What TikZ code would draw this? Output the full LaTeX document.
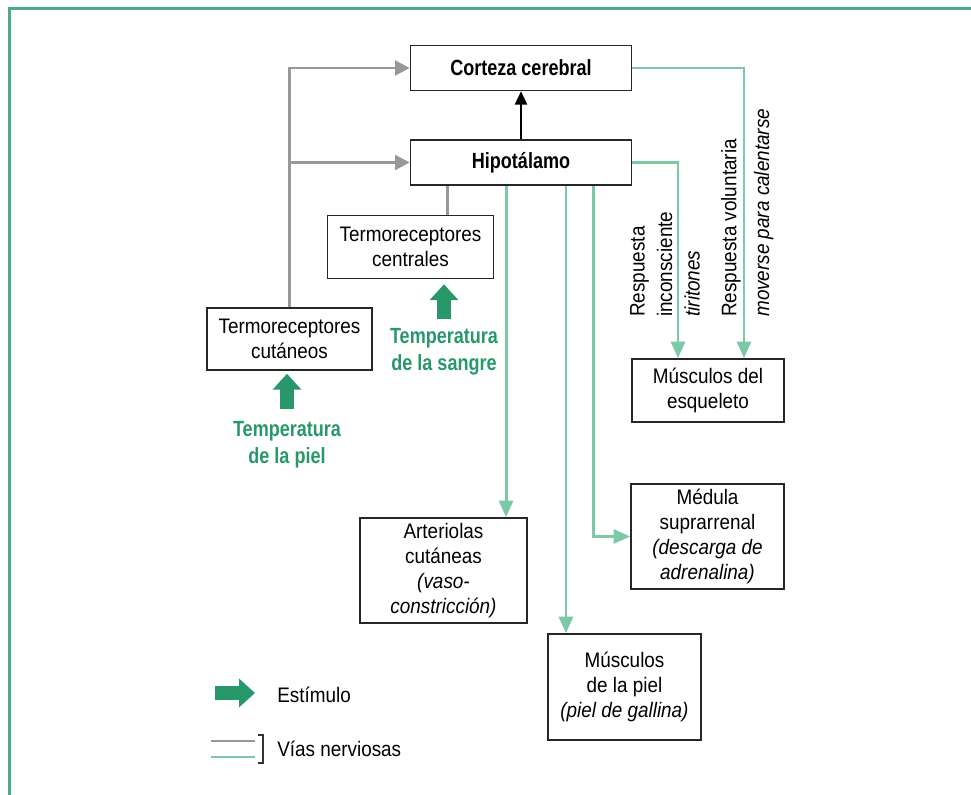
\documentclass[tikz,border=0pt]{standalone}
\usepackage{fontspec}
\setmainfont{Liberation Sans}[FakeStretch=0.9]
\newfontfamily\condbold{Liberation Sans}[FakeStretch=0.82]
\usetikzlibrary{arrows.meta}
\definecolor{nervgray}{RGB}{152,152,156}
\definecolor{nervgreen}{RGB}{125,200,165}
\definecolor{stimgreen}{RGB}{40,152,106}
\definecolor{framegreen}{RGB}{78,172,132}
\newcommand{\regfont}{\fontsize{15.75pt}{18.75pt}\selectfont}
\newcommand{\headfont}{\condbold\bfseries\fontsize{16.5pt}{20.25pt}\selectfont}

\begin{document}
\begin{tikzpicture}[
  x=0.75pt, y=-0.75pt,
  box/.style={draw=black!85, line width=1.1pt, align=center, inner sep=0pt, font=\regfont},
  hbox/.style={box, font=\headfont},
  stim/.style={align=center, text=stimgreen, font=\headfont, inner sep=0pt},
  rot/.style={rotate=90, anchor=north west, align=left, inner sep=0pt},
  grayarr/.style={-{Triangle[length=11pt,width=11pt]}, nervgray, line width=2.2pt},
  greenarr/.style={-{Triangle[length=12.5pt,width=10.5pt]}, nervgreen, line width=2.2pt},
  blackarr/.style={-{Triangle[length=10pt,width=9pt]}, black, line width=1.8pt},
  stimarr/.style={-{Triangle[length=12pt 0,width=21pt 0]}, stimgreen, line width=10pt}
]
\useasboundingbox (0,0) rectangle (971,795);
% frame
\draw[framegreen, line width=1.6pt] (971,8.5) -- (9.5,8.5) -- (9.5,795);

% boxes
\node[hbox, minimum width=165.75pt, minimum height=33.75pt] (cor) at (521,68) {Corteza cerebral};
\node[hbox, minimum width=165.75pt, minimum height=33.75pt] (hip) at (521,162.5) {Hipotálamo};
\node[box, minimum width=124.5pt, minimum height=47.25pt] (cen) at (410.5,247) {Termoreceptores\\centrales};
\node[box, minimum width=123.75pt, minimum height=46.5pt] (cut) at (289.5,339) {Termoreceptores\\cutáneos};
\node[box, minimum width=114pt, minimum height=47.25pt] (esq) at (708,390.5) {Músculos del\\esqueleto};
\node[box, minimum width=125.25pt, minimum height=78.75pt] (art) at (443.5,570.5) {Arteriolas\\cutáneas\\\textit{(vaso-}\\\textit{constricción)}};
\node[box, minimum width=114.75pt, minimum height=78.75pt] (med) at (707.5,536.5) {Médula\\suprarrenal\\\textit{(descarga de}\\\textit{adrenalina)}};
\node[box, minimum width=114.75pt, minimum height=79.5pt] (mpi) at (624.5,687) {Músculos\\de la piel\\\textit{(piel de gallina)}};

% stimuli
\node[stim] (tpi) at (287,445) {Temperatura\\de la piel};
\node[stim] (tsa) at (444,352) {Temperatura\\de la sangre};
\draw[stimarr, shorten <=9pt, shorten >=2.25pt] (tpi.north) -- (tpi.north |- cut.south);
\draw[stimarr, shorten <=6.75pt, shorten >=3.75pt] (tsa.north) -- (tsa.north |- cen.south);

% afferent (gray)
\draw[grayarr] (cut.north) -- (cut.north |- cor.west) -- (cor.west);
\draw[grayarr] (cut.north |- hip.west) -- (hip.west);
\draw[nervgray, line width=2.2pt] ([xshift=27.75pt]cen.north) -- ([xshift=27.75pt]cen.north |- hip.south);
\draw[blackarr] (hip.north) -- (cor.south);

% efferent (green)
\draw[greenarr] (cor.east) -| ([xshift=27pt]esq.north);
\draw[greenarr] (hip.east) -| ([xshift=-22.5pt]esq.north);
\draw[greenarr] ([xshift=46.9pt]art.north |- hip.south) -- ([xshift=46.9pt]art.north);
\draw[greenarr] ([xshift=-43.9pt]mpi.north |- hip.south) -- ([xshift=-43.9pt]mpi.north);
\draw[greenarr] ([xshift=54.7pt]hip.south) |- (med.west);

% response labels
\node[rot, font={\fontsize{15.75pt}{20.6pt}\selectfont}] (rin) at (630,317) {Respuesta\\inconsciente\\\textit{tiritones}};
\node[rot, font={\fontsize{15.75pt}{24.5pt}\selectfont}] (rvo) at (721,317) {Respuesta voluntaria\\\textit{moverse para calentarse}};

% legend
\draw[stimarr] (215,693) -- (255,693);
\node[anchor=west, inner sep=0pt, font=\regfont] (lgs) at (277,695) {Estímulo};
\draw[nervgray, line width=2.2pt] (211,741) -- (255,741);
\draw[nervgreen, line width=2.2pt] (211,757) -- (255,757);
\draw[black!80, line width=0.8pt] (258,735) -- (263,735) -- (263,763) -- (258,763);
\node[anchor=west, inner sep=0pt, font=\regfont] (lgv) at (277,749) {Vías nerviosas};
\end{tikzpicture}
\end{document}
